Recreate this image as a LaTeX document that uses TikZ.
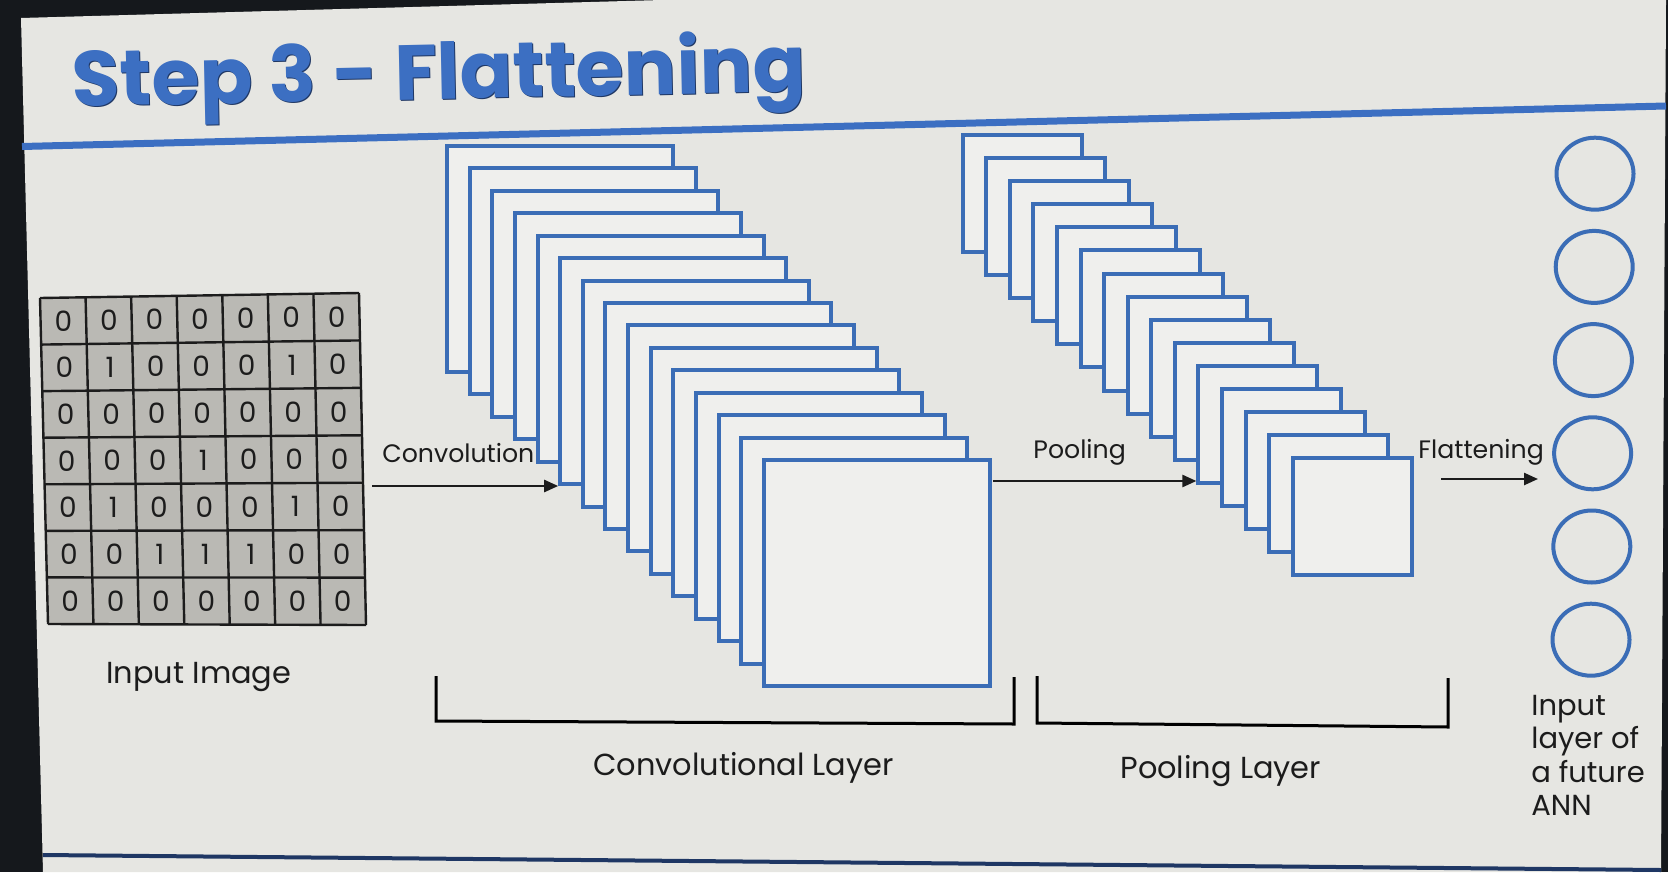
\documentclass[tikz,border=0pt]{standalone}
\usepackage{fontspec}
\setmainfont{Poppins}
\usetikzlibrary{arrows.meta,shapes.geometric,calc}
\definecolor{frame}{HTML}{15181C}
\definecolor{slide}{HTML}{E6E6E2}
\definecolor{boxfill}{HTML}{EFEFED}
\definecolor{sblue}{HTML}{3B6DB6}
\definecolor{tblue}{HTML}{3C6FC2}
\definecolor{navy}{HTML}{1F3764}
\definecolor{ink}{HTML}{1C1C1C}
\definecolor{cellgray}{HTML}{BAB9B4}
\begin{document}
\begin{tikzpicture}[x={(0.5pt,0)},y={(0,-0.5pt)},
  fmap/.style={draw=sblue, line width=2pt, fill=boxfill, rectangle, inner sep=0pt},
  conv/.style={fmap, minimum width=113pt, minimum height=113pt},
  pool/.style={fmap, minimum width=59.5pt, minimum height=58.5pt},
  neuron/.style={ellipse, draw=sblue, line width=2pt, minimum width=38.5pt, minimum height=36pt, inner sep=0pt},
  lbl/.style={text=ink, inner sep=0pt, font=\fontsize{12.6}{14}\selectfont},
  biglbl/.style={text=ink, inner sep=0pt, font=\fontsize{15.2}{16.5}\selectfont},
  annlbltext/.style={text=ink, inner sep=0pt, font=\fontsize{14.5}{16.6}\selectfont},
  digit/.style={text=ink, inner sep=0pt, font=\fontsize{14}{15}\selectfont},
  arr/.style={draw=ink, line width=1.2pt, -{Triangle[length=7pt,width=6pt]}},
  bracket/.style={draw=black, line width=1.5pt},
  gridline/.style={draw=ink, line width=1.2pt},
  titletext/.style={anchor=base west, inner sep=0pt, rotate=1.2, font=\fontsize{39}{44}\selectfont\bfseries},
]
\useasboundingbox (0,0) rectangle (1668,872);
\fill[frame] (0,0) rectangle (1668,872);
\fill[slide] (21,18) -- (662,0) -- (1666,0) -- (1661,872) -- (43,872) -- cycle;

% title
\node[titletext, text=navy] (titleshadow) at (73,108) {Step 3 - Flattening};
\node[titletext, text=tblue] (title) at (72,107) {Step 3 - Flattening};
\draw[tblue, line width=3.5pt] (22,146.5) -- (1666,106);
\draw[navy, line width=2pt] (43,855) -- (1661,870);

% input grid
\coordinate (TL) at (40,298);
\coordinate (TR) at (359,293);
\coordinate (BL) at (48,624);
\coordinate (BR) at (366,625);
\fill[cellgray] (TL) -- (TR) -- (BR) -- (BL) -- cycle;
\foreach \i in {0,...,7} {
  \draw[gridline] ($(TL)!\i/7!(BL)$) -- ($(TR)!\i/7!(BR)$);
  \draw[gridline] ($(TL)!\i/7!(TR)$) -- ($(BL)!\i/7!(BR)$);
}
\foreach \row [count=\r from 0] in {{0,0,0,0,0,0,0},{0,1,0,0,0,1,0},{0,0,0,0,0,0,0},{0,0,0,1,0,0,0},{0,1,0,0,0,1,0},{0,0,1,1,1,0,0},{0,0,0,0,0,0,0}} {
  \foreach \v [count=\c from 0] in \row {
    \pgfmathsetmacro\fx{(\c+0.5)/7}
    \pgfmathsetmacro\fy{(\r+0.5)/7}
    \node[digit] (g\r\c) at ($ ($(TL)!\fy!(BL)$)!\fx!($(TR)!\fy!(BR)$) $) {\v};
  }
}

% convolution stack
\foreach \i in {0,...,14}
  \node[conv] (c\i) at ({560+22.64*\i},{259+22.43*\i}) {};
% pooling stack
\foreach \i in {0,...,14}
  \node[pool] (p\i) at ({1022.2+23.57*\i},{193.5+23.09*\i}) {};
% neurons
\foreach \i in {0,...,5}
  \node[neuron] (n\i) at ({1595-0.8*\i},{173.7+93.2*\i}) {};

% arrows
\coordinate (convstart) at (372,486);
\draw[arr] (convstart) -- (convstart -| c5.west);
\coordinate (poolstart) at (993,481);
\draw[arr] (poolstart) -- (poolstart -| p10.west);
\coordinate (flatstart) at (1441,479);
\coordinate (flatend) at (1538,479);
\draw[arr] (flatstart) -- (flatend);

% labels
\node[lbl, anchor=base west] (convlbl) at (382,462) {Convolution};
\node[lbl, anchor=base west] (poollbl) at (1033,458) {Pooling};
\node[lbl, anchor=base west] (flatlbl) at (1418,458) {Flattening};
\node[biglbl, anchor=base west] (inlbl) at (106,683) {Input Image};
\node[biglbl, anchor=base west] (convlayer) at (593,775) {Convolutional Layer};
\node[biglbl, anchor=base west] (poollayer) at (1120,778) {Pooling Layer};
\node[annlbltext, anchor=north west, align=left] (annlbl) at (1531,695) {Input\\layer of\\a future\\ANN};

% brackets
\draw[bracket] (436,676) -- (436,721) -- (1014,724) -- (1014,677);
\draw[bracket] (1037,676) -- (1037,723) -- (1448,727) -- (1448,678);
\end{tikzpicture}
\end{document}
